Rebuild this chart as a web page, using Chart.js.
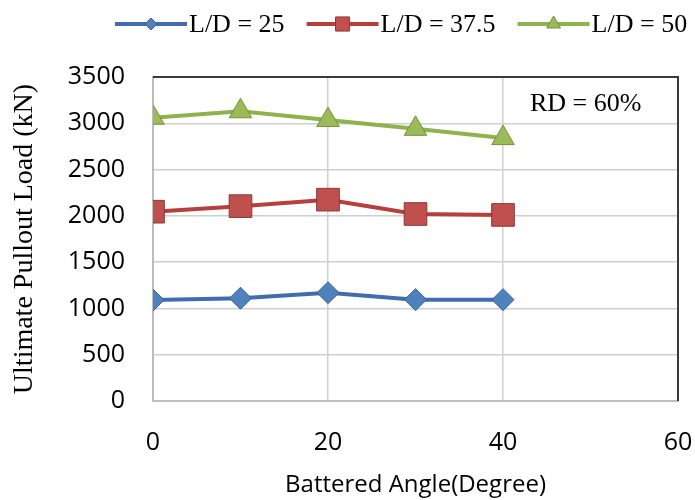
<!DOCTYPE html>
<html>
<head>
<meta charset="utf-8">
<script src="https://cdn.jsdelivr.net/npm/chart.js@4/dist/chart.umd.min.js"></script>
<style>
  html, body { margin: 0; padding: 0; background: #fff; }
  #wrap { width: 695px; height: 500px; }
</style>
</head>
<body>
<div id="wrap"><canvas id="myChart" width="695" height="500"></canvas></div>
<script>
// datos
const angles = [0, 10, 20, 30, 40];
const ld25 = [1090, 1110, 1170, 1095, 1095];
const ld375 = [2045, 2105, 2175, 2020, 2010];
const ld50 = [3060, 3130, 3035, 2940, 2840];
const seriesNames = ['L/D = 25', 'L/D = 37.5', 'L/D = 50'];
const xTicks = [0, 20, 40, 60];
const yTicks = [0, 500, 1000, 1500, 2000, 2500, 3000, 3500];

function toPoints(vals) {
  return angles.map((a, i) => ({ x: a, y: vals[i] }));
}

const serif = "'Liberation Serif', 'Times New Roman', serif";
const sans = "'Open Sans', 'Noto Sans', sans-serif";

function drawShape(ctx, style, r, x, y) {
  if (style === 'rectRot') {
    ctx.moveTo(x, y - r); ctx.lineTo(x + r, y); ctx.lineTo(x, y + r); ctx.lineTo(x - r, y); ctx.closePath();
  } else if (style === 'rect') {
    const s = r * Math.SQRT1_2;
    ctx.rect(x - s, y - s, 2 * s, 2 * s);
  } else {
    ctx.moveTo(x, y - r); ctx.lineTo(x + r * 0.866, y + r / 2); ctx.lineTo(x - r * 0.866, y + r / 2); ctx.closePath();
  }
}

// leyenda con linea + marcador, estilo Excel
const legendPlugin = {
  id: 'excelLegend',
  afterDraw(chart) {
    const ctx = chart.ctx;
    const y = 24;
    let x = 115;
    ctx.save();
    ctx.font = '26px ' + serif;
    ctx.textBaseline = 'middle';
    chart.data.datasets.forEach(ds => {
      ctx.strokeStyle = ds.borderColor;
      ctx.lineWidth = 4;
      ctx.beginPath();
      ctx.moveTo(x, y);
      ctx.lineTo(x + 72, y);
      ctx.stroke();
      ctx.fillStyle = ds.pointBackgroundColor;
      ctx.strokeStyle = ds.pointBorderColor;
      ctx.lineWidth = 1;
      ctx.beginPath();
      drawShape(ctx, ds.pointStyle, ds.legendRadius, x + 36, y);
      ctx.fill();
      ctx.stroke();
      ctx.fillStyle = '#000';
      ctx.fillText(ds.label, x + 74, y + 1);
      x += 74 + ctx.measureText(ds.label).width + 22;
    });
    ctx.restore();
  }
};

// borde superior y derecho oscuro + texto RD
const extrasPlugin = {
  id: 'extras',
  beforeDatasetsDraw(chart) {
    const { ctx, chartArea } = chart;
    ctx.save();
    ctx.strokeStyle = '#3a3a3a';
    ctx.lineWidth = 2;
    ctx.beginPath();
    ctx.moveTo(chartArea.left, chartArea.top);
    ctx.lineTo(chartArea.right, chartArea.top);
    ctx.lineTo(chartArea.right, chartArea.bottom);
    ctx.stroke();
    ctx.restore();
  },
  afterDraw(chart) {
    const ctx = chart.ctx;
    ctx.save();
    ctx.font = '26px ' + serif;
    ctx.fillStyle = '#000';
    ctx.textBaseline = 'middle';
    ctx.fillText('RD = 60%', 530, 104);
    ctx.restore();
  }
};

const ctx = document.getElementById('myChart').getContext('2d');
const myChart = new Chart(ctx, {
  type: 'line',
  data: {
    datasets: [{
      label: seriesNames[0],
      data: toPoints(ld25),
      borderColor: '#416DAF',
      pointBackgroundColor: '#4F81BD',
      pointBorderColor: '#3A5F8F',
      pointBorderWidth: 1,
      pointStyle: 'rectRot',
      pointRadius: 11,
      legendRadius: 6,
      borderWidth: 4
    }, {
      label: seriesNames[1],
      data: toPoints(ld375),
      borderColor: '#B5403D',
      pointBackgroundColor: '#C0504D',
      pointBorderColor: '#8C3836',
      pointBorderWidth: 1,
      pointStyle: 'rect',
      pointRadius: 16,
      legendRadius: 10,
      borderWidth: 4
    }, {
      label: seriesNames[2],
      data: toPoints(ld50),
      borderColor: '#8DB34E',
      pointBackgroundColor: '#9BBB59',
      pointBorderColor: '#76923C',
      pointBorderWidth: 1,
      pointStyle: 'triangle',
      pointRadius: 13,
      legendRadius: 8,
      borderWidth: 4
    }]
  },
  options: {
    responsive: false,
    animation: false,
    layout: { padding: { top: 77, right: 0, left: 0, bottom: 0 } },
    plugins: {
      legend: { display: false },
      tooltip: { enabled: false }
    },
    scales: {
      x: {
        type: 'linear',
        min: 0,
        max: 60,
        afterBuildTicks: s => { s.ticks = xTicks.map(v => ({ value: v })); },
        afterFit: s => { s.height = 99; s.paddingRight = 14; s.paddingLeft = 0; },
        grid: { color: '#cfcfcf', lineWidth: 1.5, drawTicks: false },
        border: { color: '#bdbdbd', width: 2 },
        ticks: { color: '#000', font: { family: sans, size: 25 }, padding: 27, callback: v => String(v) },
        title: {
          display: true,
          text: 'Battered Angle(Degree)',
          color: '#000',
          font: { family: sans, size: 24 },
          padding: { top: 8, bottom: 0 }
        }
      },
      y: {
        min: 0,
        max: 3500,
        afterBuildTicks: s => { s.ticks = yTicks.map(v => ({ value: v })); },
        afterFit: s => { s.width = 153; },
        grid: { color: '#cfcfcf', lineWidth: 1.5, drawTicks: false },
        border: { color: '#bdbdbd', width: 2 },
        ticks: { color: '#000', font: { family: sans, size: 25 }, padding: 28, callback: v => String(v) },
        title: {
          display: true,
          text: 'Ultimate Pullout Load (kN)',
          color: '#000',
          font: { family: serif, size: 28 },
          padding: { top: 8, bottom: 0 }
        }
      }
    }
  },
  plugins: [legendPlugin, extrasPlugin]
});
</script>
</body>
</html>
